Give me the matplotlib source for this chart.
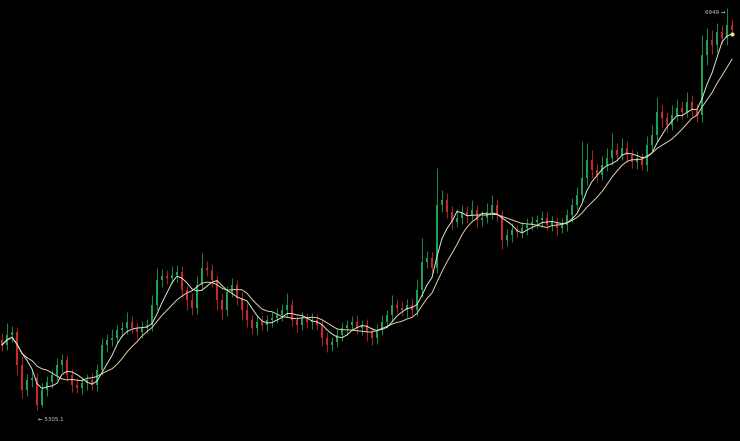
import numpy as np
import pandas as pd
import matplotlib
matplotlib.use('Agg')
import matplotlib.pyplot as plt

# Closing prices (one per candle)
closes = [
    5571, 5612, 5624, 5489, 5387, 5428, 5436, 5326, 5387, 5420,
    5448, 5489, 5510, 5448, 5407, 5395, 5416, 5428, 5407, 5469,
    5571, 5591, 5600, 5632, 5640, 5665, 5640, 5624, 5640, 5653,
    5735, 5837, 5853, 5845, 5857, 5870, 5796, 5755, 5722, 5816,
    5886, 5878, 5837, 5755, 5714, 5788, 5816, 5763, 5714, 5673,
    5640, 5665, 5653, 5673, 5681, 5694, 5714, 5735, 5673, 5653,
    5681, 5665, 5673, 5653, 5600, 5571, 5583, 5612, 5640, 5653,
    5665, 5640, 5653, 5624, 5600, 5632, 5665, 5694, 5735, 5722,
    5714, 5735, 5714, 5796, 5910, 5927, 5886, 6144, 6164, 6115,
    6074, 6090, 6115, 6103, 6123, 6082, 6090, 6115, 6144, 6103,
    6000, 6021, 6041, 6033, 6049, 6062, 6074, 6082, 6090, 6062,
    6074, 6049, 6062, 6103, 6144, 6184, 6254, 6328, 6287, 6266,
    6307, 6336, 6368, 6348, 6377, 6348, 6319, 6336, 6307, 6389,
    6430, 6524, 6499, 6471, 6512, 6540, 6524, 6565, 6532, 6512,
    6757, 6818, 6798, 6851, 6827, 6880, 6859,
]
first_open = 5590

# Shadow lengths above / below the candle body
upper_wick = [
    30, 50, 25, 20, 35, 25, 30, 20, 30, 25,
    20, 30, 25, 20, 25, 30, 20, 25, 30, 25,
    30, 25, 35, 20, 25, 40, 25, 20, 30, 25,
    40, 50, 30, 25, 35, 30, 25, 20, 30, 35,
    60, 30, 25, 20, 30, 25, 30, 20, 25, 30,
    20, 25, 30, 20, 25, 30, 25, 50, 25, 20,
    25, 20, 30, 25, 20, 25, 20, 30, 25, 20,
    25, 30, 20, 25, 20, 25, 30, 20, 40, 25,
    30, 25, 30, 45, 100, 30, 25, 150, 40, 30,
    25, 35, 30, 25, 40, 20, 30, 35, 40, 25,
    20, 25, 30, 20, 25, 30, 25, 20, 30, 25,
    25, 20, 30, 25, 30, 35, 150, 70, 40, 30,
    35, 40, 70, 30, 40, 30, 25, 30, 20, 35,
    40, 60, 30, 25, 40, 35, 30, 40, 30, 25,
    80, 50, 40, 35, 30, 69, 25,
]
lower_wick = [
    25, 20, 30, 40, 35, 25, 30, 20.9, 10, 25,
    25, 20, 30, 25, 30, 20, 25, 30, 20, 25,
    20, 30, 25, 20, 30, 25, 20, 30, 25, 20,
    25, 20, 30, 25, 20, 30, 35, 40, 30, 25,
    20, 25, 30, 40, 35, 25, 20, 30, 40, 30,
    25, 30, 20, 25, 30, 20, 25, 30, 25, 30,
    20, 25, 30, 20, 35, 30, 25, 20, 25, 30,
    20, 25, 30, 35, 30, 25, 20, 25, 30, 20,
    25, 30, 20, 25, 30, 25, 30, 20, 30, 25,
    30, 20, 25, 35, 20, 30, 25, 20, 30, 25,
    35, 25, 30, 20, 25, 30, 20, 25, 30, 20,
    25, 30, 20, 25, 30, 20, 25, 30, 35, 25,
    20, 25, 30, 25, 20, 30, 25, 30, 20, 25,
    30, 25, 35, 30, 20, 25, 30, 20, 25, 30,
    30, 40, 35, 30, 25, 30, 25,
]

high_label = '6949'
low_label = '5305.1'

# Build OHLC frame
df = pd.DataFrame({'close': closes})
df['open'] = [first_open] + closes[:-1]
df['high'] = df[['open', 'close']].max(axis=1) + np.array(upper_wick)
df['low'] = df[['open', 'close']].min(axis=1) - np.array(lower_wick)
df['ma5'] = df['close'].rolling(5, min_periods=1).mean()
df['ma10'] = df['close'].rolling(10, min_periods=1).mean()

up_color = '#1f9e55'
down_color = '#c82828'

fig = plt.figure(figsize=(7.4, 4.41), dpi=100, facecolor='black')
ax = fig.add_axes([0, 0, 1, 1])
ax.set_facecolor('black')

x = np.arange(len(df))
colors = np.where(df['close'] >= df['open'], up_color, down_color)

# Wicks and bodies
ax.vlines(x, df['low'], df['high'], colors=colors, linewidth=0.6)
body_bottom = df[['open', 'close']].min(axis=1)
body_height = (df['close'] - df['open']).abs().clip(lower=2)
ax.bar(x, body_height, bottom=body_bottom, width=0.5, color=colors, linewidth=0)

# Moving averages
ax.plot(x, df['ma5'], color='#d4ecd4', linewidth=0.7)
ax.plot(x, df['ma10'], color='#e8d2ab', linewidth=0.7)

# Max / min markers
i_hi = int(df['high'].idxmax())
i_lo = int(df['low'].idxmin())
ax.annotate(high_label + ' \u2192', xy=(i_hi, df['high'][i_hi]), xytext=(-1, -3),
            textcoords='offset points', color='#cccccc', fontsize=4,
            ha='right', va='center')
ax.annotate('\u2190 ' + low_label, xy=(i_lo, df['low'][i_lo]), xytext=(1, -7),
            textcoords='offset points', color='#cccccc', fontsize=4,
            ha='left', va='center')

# Marker on the latest average value
ax.plot(x[-1], df['ma5'].iloc[-1], 'o', color='#f0e08a', markersize=2)

ax.set_xlim(-0.4, 147.6)
ax.set_ylim(5178, 6982)
ax.axis('off')

plt.savefig('out.png', dpi=100, facecolor='black')
